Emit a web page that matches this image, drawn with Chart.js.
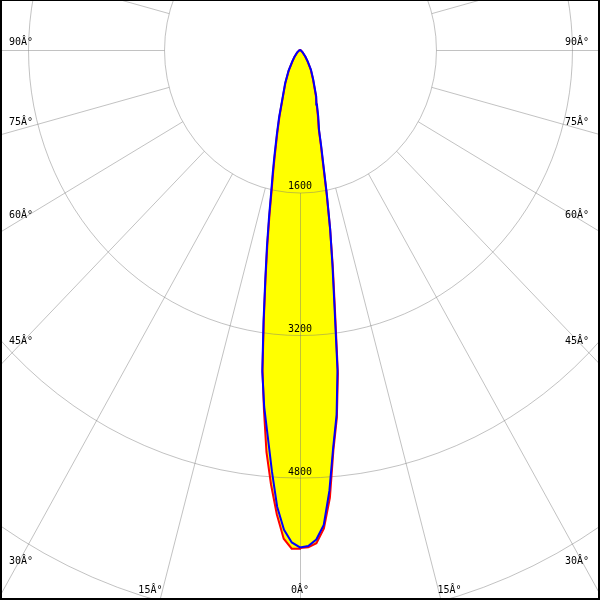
<!DOCTYPE html>
<html>
<head>
<meta charset="utf-8">
<script src="https://cdn.jsdelivr.net/npm/chart.js@4/dist/chart.umd.min.js"></script>
<style>
  html, body { margin: 0; padding: 0; background: #fff; overflow: hidden; }
  canvas { display: block; }
</style>
</head>
<body>
<canvas id="polar" width="600" height="600"></canvas>
<script>
// gamma angles in degrees from nadir, shared by every half plane
const angles = [0, 1, 2, 3, 4, 5, 6, 7, 8, 9, 10, 11, 12, 13, 14, 16, 18, 20, 25, 30, 35, 40, 50, 60, 70, 80, 90];

// candela values
const c0   = [5590, 5585, 5540, 5380, 5040, 4510, 4150, 3660, 2960, 2470, 2040, 1640, 1300, 1090, 910, 760, 630, 545, 360, 250, 155, 95, 38, 14, 5, 2, 0];   // red, right
const c180 = [5600, 5600, 5490, 5220, 4890, 4530, 4060, 3620, 3060, 2590, 2210, 1880, 1600, 1400, 1230, 970, 780, 615, 405, 262, 155, 100, 42, 15, 5, 2, 0]; // red, left
const c90  = [5585, 5570, 5500, 5340, 4960, 4480, 4120, 3620, 2920, 2440, 2045, 1660, 1330, 1110, 926, 780, 645, 560, 370, 260, 160, 100, 40, 15, 5, 2, 0];  // blue, right
const c270 = [5585, 5530, 5390, 5135, 4740, 4355, 4030, 3640, 3085, 2610, 2240, 1910, 1630, 1430, 1258, 990, 797, 629, 415, 270, 160, 105, 45, 15, 5, 2, 0]; // blue, left

const rings = [1600, 3200, 4800, 6400];
const ringLabels = ["1600", "3200", "4800"];
const angleTicks = [0, 15, 30, 45, 60, 75, 90];
const spokeStep = 15;

// left half goes from 90 down to 0, right half from 0 up to 90
function toPoints(left, right) {
  const pts = [];
  for (let i = angles.length - 1; i >= 0; i--) {
    const a = angles[i] * Math.PI / 180;
    pts.push({ x: -left[i] * Math.sin(a), y: -left[i] * Math.cos(a) });
  }
  for (let i = 0; i < angles.length; i++) {
    const a = angles[i] * Math.PI / 180;
    pts.push({ x: right[i] * Math.sin(a), y: -right[i] * Math.cos(a) });
  }
  return pts;
}

const FONT = '10px "DejaVu Sans Mono"';

const polarGrid = {
  id: "polarGrid",
  beforeDatasetsDraw(chart) {
    const { ctx, scales: { x, y } } = chart;
    const cx = Math.round(x.getPixelForValue(0)) + 0.5;
    const cy = Math.round(y.getPixelForValue(0)) + 0.5;
    const px = (r, t) => cx + x.getPixelForValue(r * Math.sin(t)) - x.getPixelForValue(0);
    const py = (r, t) => cy + y.getPixelForValue(-r * Math.cos(t)) - y.getPixelForValue(0);
    ctx.save();
    ctx.strokeStyle = "rgba(120,120,120,0.45)";
    ctx.lineWidth = 1;
    rings.forEach((r) => {
      ctx.beginPath();
      ctx.ellipse(cx, cy, x.getPixelForValue(r) - x.getPixelForValue(0),
        y.getPixelForValue(-r) - y.getPixelForValue(0), 0, 0, 2 * Math.PI);
      ctx.stroke();
    });
    for (let a = 0; a < 360; a += spokeStep) {
      const t = a * Math.PI / 180;
      ctx.beginPath();
      ctx.moveTo(px(rings[0], t), py(rings[0], t));
      ctx.lineTo(px(12000, t), py(12000, t));
      ctx.stroke();
    }
    ctx.restore();
  },
  afterDatasetsDraw(chart) {
    const { ctx, scales: { x, y } } = chart;
    const cx = x.getPixelForValue(0);
    ctx.save();
    ctx.fillStyle = "#000";
    ctx.font = FONT;

    // ring values just above each ring on the 0 deg spoke
    ctx.textAlign = "center";
    ctx.textBaseline = "alphabetic";
    ringLabels.forEach((txt, i) => {
      ctx.fillText(txt, cx, y.getPixelForValue(-rings[i]) - 3);
    });

    // angle labels where each spoke leaves the plot
    const sideX = x.getValueForPixel(14);
    const bottomY = y.getValueForPixel(588);
    angleTicks.forEach((a) => {
      const t = a * Math.PI / 180;
      const rSide = a > 0 ? Math.abs(sideX) / Math.sin(t) : Infinity;
      const rBottom = a < 90 ? Math.abs(bottomY) / Math.cos(t) : Infinity;
      const txt = a + "Â°";
      [-1, 1].forEach((side) => {
        if (a === 0 && side === 1) return;
        if (rSide * Math.cos(t) < Math.abs(bottomY)) {
          const yy = y.getPixelForValue(-rSide * Math.cos(t)) - 8;
          ctx.textBaseline = "middle";
          ctx.textAlign = side < 0 ? "left" : "right";
          ctx.fillText(txt, side < 0 ? 9 : chart.width - 11, yy);
        } else {
          const xx = x.getPixelForValue(side * rBottom * Math.sin(t));
          ctx.textBaseline = "alphabetic";
          ctx.textAlign = a === 0 ? "center" : (side < 0 ? "right" : "left");
          ctx.fillText(txt, xx, 593);
        }
      });
    });

    // frame
    ctx.fillRect(0, 0, chart.width, 1);
    ctx.fillRect(0, 0, 2, chart.height);
    ctx.fillRect(chart.width - 2, 0, 2, chart.height);
    ctx.fillRect(0, chart.height - 2, chart.width, 2);
    ctx.restore();
  }
};

new Chart(document.getElementById("polar"), {
  type: "scatter",
  data: {
    datasets: [
      {
        label: "C90-C270",
        data: toPoints(c270, c90),
        showLine: true,
        borderColor: "#0000ff",
        backgroundColor: "#ffff00",
        borderWidth: 2,
        pointRadius: 0,
        fill: "shape",
        clip: false,
      },
      {
        label: "C0-C180",
        data: toPoints(c180, c0),
        showLine: true,
        borderColor: "#ff0000",
        backgroundColor: "#ffff00",
        borderWidth: 2,
        pointRadius: 0,
        fill: "shape",
        clip: false,
      },
    ],
  },
  options: {
    responsive: false,
    animation: false,
    devicePixelRatio: 1,
    indexAxis: "y",
    layout: { padding: 0 },
    scales: {
      x: { type: "linear", display: false, min: -3530, max: 3530 },
      y: { type: "linear", display: false, min: -6175, max: 561 },
    },
    plugins: {
      legend: { display: false },
      tooltip: { enabled: false },
      filler: { drawTime: "beforeDatasetsDraw" },
    },
  },
  plugins: [polarGrid],
});
</script>
</body>
</html>
